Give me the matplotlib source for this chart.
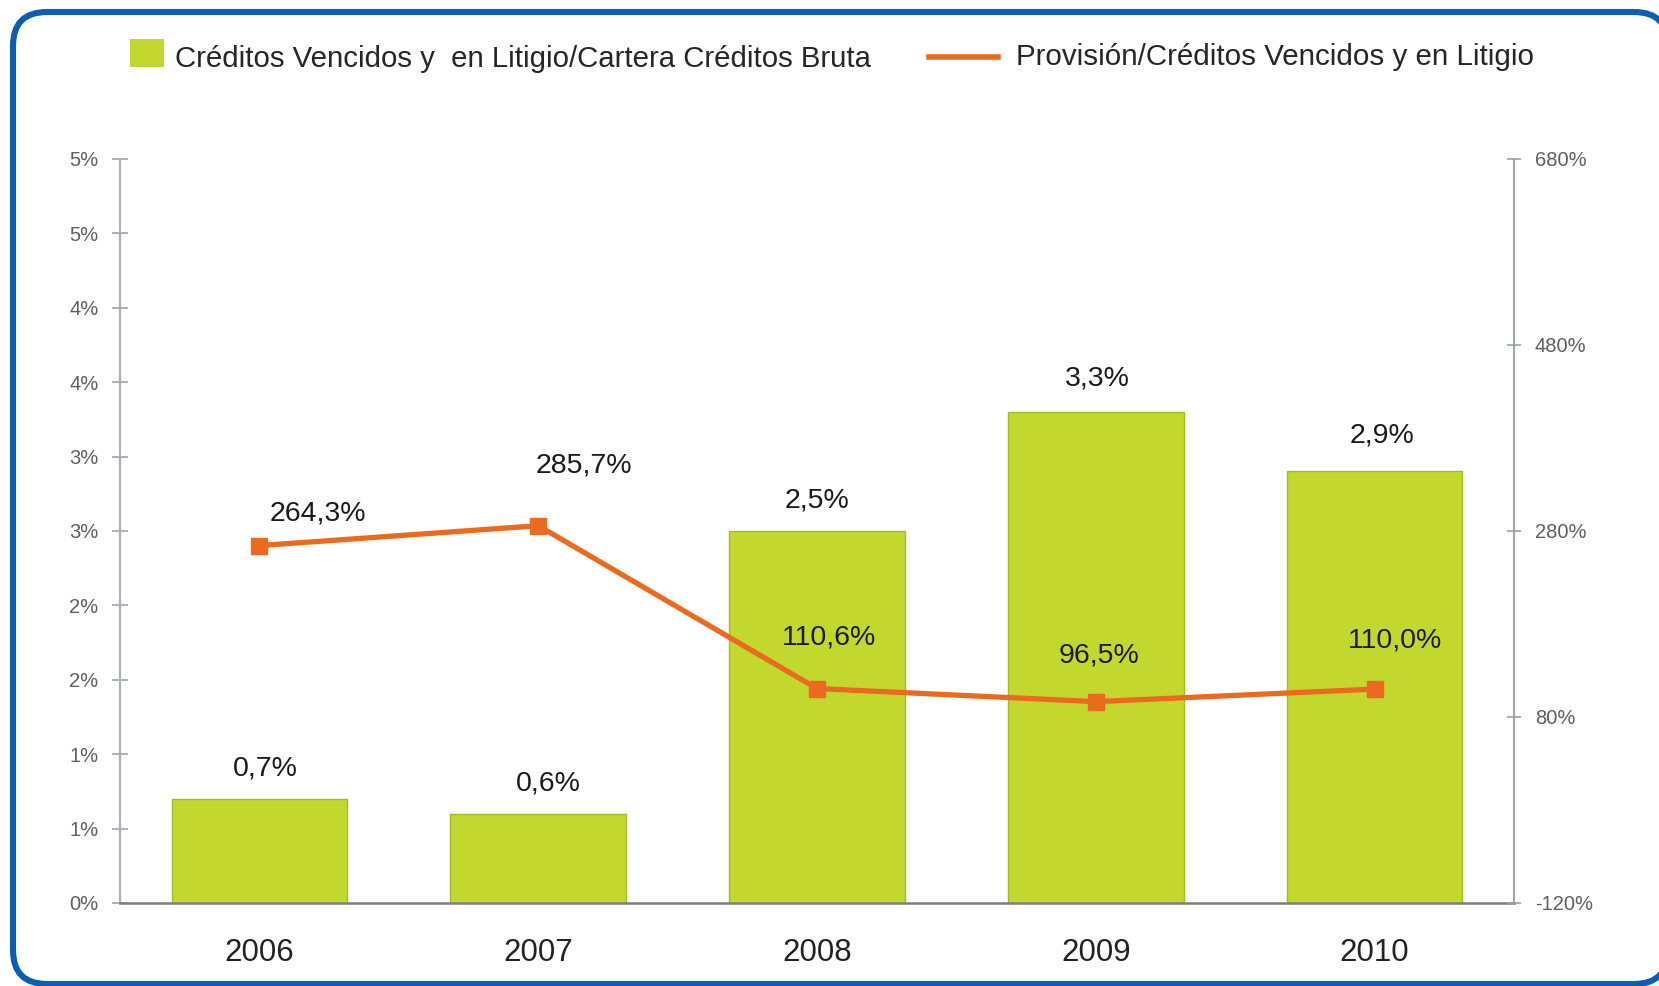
import matplotlib
matplotlib.use("Agg")
import matplotlib.pyplot as plt
from matplotlib import font_manager
from matplotlib.patches import FancyBboxPatch, Rectangle
from matplotlib.lines import Line2D

# ---------------- data ----------------
years = ["2006", "2007", "2008", "2009", "2010"]
ratio_vencidos = [0.7, 0.6, 2.5, 3.3, 2.9]          # % (left axis, bars)
ratio_provision = [264.3, 285.7, 110.6, 96.5, 110.0]  # % (right axis, line)
bar_labels = ["0,7%", "0,6%", "2,5%", "3,3%", "2,9%"]
line_labels = ["264,3%", "285,7%", "110,6%", "96,5%", "110,0%"]
left_ticks = [0, 0.5, 1.0, 1.5, 2.0, 2.5, 3.0, 3.5, 4.0, 4.5, 5.0]
left_ticklabels = ["0%", "1%", "1%", "2%", "2%", "3%", "3%", "4%", "4%", "5%", "5%"]
right_ticks = [-120, 80, 280, 480, 680]
right_ticklabels = ["-120%", "80%", "280%", "480%", "680%"]
legend_bar = "Créditos Vencidos y  en Litigio/Cartera Créditos Bruta"
legend_line = "Provisión/Créditos Vencidos y en Litigio"

# ---------------- style ----------------
W, H = 1659, 986
DPI = 100
GREEN = "#c2d82e"
GREEN_EDGE = "#a3bb25"
ORANGE = "#ea6a1f"
BLUE = "#0d5db3"

avail = {f.name for f in font_manager.fontManager.ttflist}
BASE = "Liberation Sans" if "Liberation Sans" in avail else "DejaVu Sans"
NARROW = "Liberation Sans Narrow" if "Liberation Sans Narrow" in avail else BASE
plt.rcParams["font.family"] = [BASE, "DejaVu Sans"]

fig = plt.figure(figsize=(W / DPI, H / DPI), dpi=DPI)
fig.patch.set_facecolor("white")

def fx(px):
    return px / W

def fy(py):  # py measured from top
    return 1 - py / H

# rounded blue frame (in inches so the rounding is circular); extends past right edge
def inch_x(px):
    return px / DPI

def inch_y(py):
    return (H - py) / DPI

frame = FancyBboxPatch((inch_x(13), inch_y(984)), inch_x(1668) - inch_x(13),
                       inch_y(12) - inch_y(984),
                       boxstyle="round,pad=0,rounding_size=0.34",
                       transform=fig.dpi_scale_trans, facecolor="white",
                       edgecolor=BLUE, linewidth=4.4, zorder=0)
fig.add_artist(frame)

L, R, T, B = 120, 1514, 159, 903
ax = fig.add_axes([fx(L), fy(B), fx(R) - fx(L), fy(T) - fy(B)])
ax.set_facecolor("none")
ax2 = ax.twinx()

x = list(range(len(years)))
bars = ax.bar(x, ratio_vencidos, width=0.63, color=GREEN, edgecolor=GREEN_EDGE,
              linewidth=1.0, zorder=2)
ax.set_xlim(-0.5, len(years) - 0.5)
ax.set_ylim(0, 5.0)
ax2.set_ylim(-120, 680)

ax2.plot(x, ratio_provision, color=ORANGE, linewidth=3.8, marker="s",
         markersize=11, markerfacecolor=ORANGE, markeredgecolor=ORANGE, zorder=3)

# spines / ticks
for a in (ax, ax2):
    for s in a.spines.values():
        s.set_visible(False)
ax.spines["left"].set_visible(True)
ax.spines["left"].set_color("#a9b0b8")
ax.spines["left"].set_linewidth(1.6)
ax.spines["bottom"].set_visible(True)
ax.spines["bottom"].set_color("#7f7f7f")
ax.spines["bottom"].set_linewidth(1.8)
ax2.spines["right"].set_visible(True)
ax2.spines["right"].set_color("#9aa1a8")
ax2.spines["right"].set_linewidth(1.4)

ax.set_yticks(left_ticks)
ax.set_yticklabels(left_ticklabels)
ax.tick_params(axis="y", direction="inout", length=11, width=1.4, color="#a9b0b8",
               labelsize=14.5, labelcolor="#5f5f5f", pad=10)
ax2.set_yticks(right_ticks)
ax2.set_yticklabels(right_ticklabels)
ax2.tick_params(axis="y", direction="inout", length=10, width=1.2, color="#9aa1a8",
                labelsize=14.5, labelcolor="#5f5f5f", pad=10)
ax.set_xticks(x)
ax.set_xticklabels(years)
ax.tick_params(axis="x", length=0, labelsize=22.5, labelcolor="#222222", pad=25)

# data labels (offsets in points)
bar_offsets = [(4, 22), (7, 22), (0, 22), (1, 24), (5, 26)]
for xi, v, lab, off in zip(x, ratio_vencidos, bar_labels, bar_offsets):
    ax.annotate(lab, (xi, v), xytext=off, textcoords="offset points",
                ha="center", va="center", fontsize=20.5, color="#1a1a1a", zorder=5)

line_offsets = [(42, 23), (33, 43), (9, 37), (2, 33), (15, 35)]
for xi, v, lab, off in zip(x, ratio_provision, line_labels, line_offsets):
    ax2.annotate(lab, (xi, v), xytext=off, textcoords="offset points",
                 ha="center", va="center", fontsize=20.5, color="#1a1a1a", zorder=5)

# legend (drawn in figure space)
fig.add_artist(Rectangle((fx(130), fy(67)), fx(164) - fx(130), fy(39) - fy(67),
                         transform=fig.transFigure, facecolor=GREEN,
                         edgecolor="none"))
fig.add_artist(Line2D([fx(929), fx(998)], [fy(57), fy(57)], transform=fig.transFigure,
                      color=ORANGE, linewidth=4.0))
t1 = fig.text(fx(175), fy(59), legend_bar, ha="left", va="center",
              fontsize=22, color="#262626", family=[NARROW, "DejaVu Sans"])
t2 = fig.text(fx(1016), fy(57), legend_line, ha="left", va="center",
              fontsize=22, color="#262626", family=[NARROW, "DejaVu Sans"])

# scale legend font sizes so their widths match the reference
fig.canvas.draw()
r = fig.canvas.get_renderer()
for t, target in ((t1, 693), (t2, 514)):
    w = t.get_window_extent(r).width
    t.set_fontsize(t.get_fontsize() * target / w)

fig.savefig("out.png", dpi=DPI, facecolor="white")
